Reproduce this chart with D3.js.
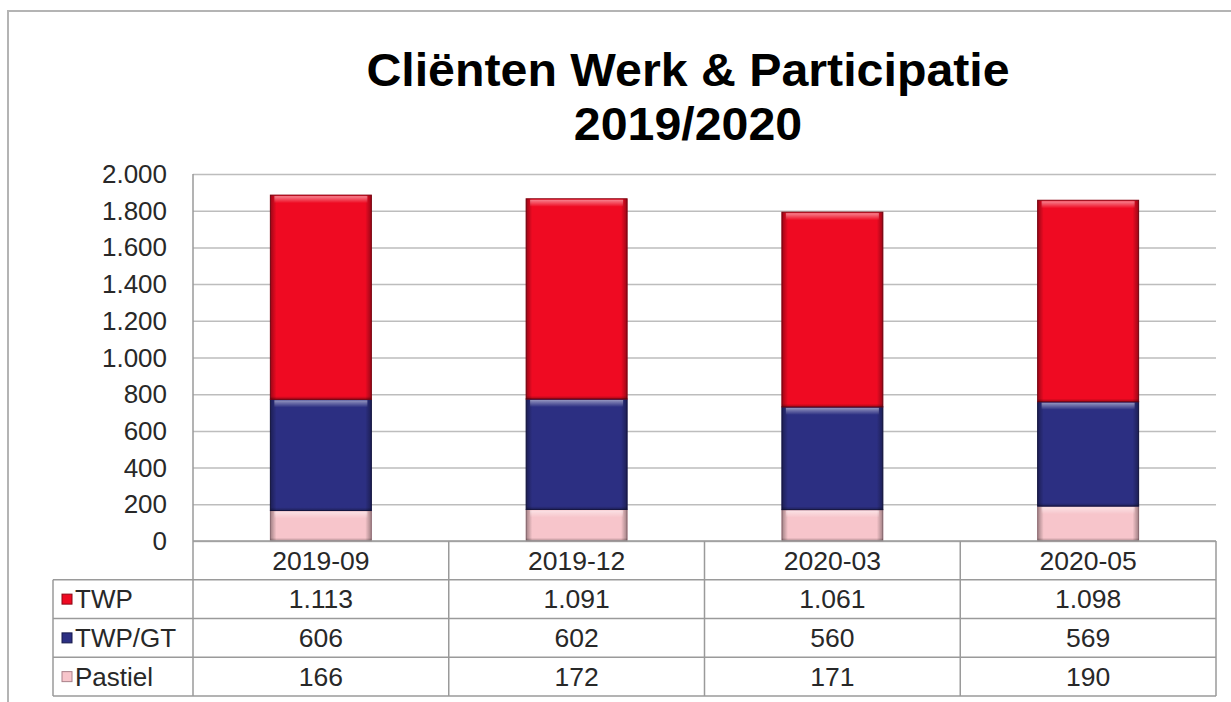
<!DOCTYPE html>
<html>
<head>
<meta charset="utf-8">
<script src="https://cdn.jsdelivr.net/npm/d3@7"></script>
<style>
  body { margin: 0; background: #fff; }
  svg { display: block; font-family: "Liberation Sans", Arial, sans-serif; }
</style>
</head>
<body>
<div id="chart"></div>
<script>
// Cliënten Werk & Participatie 2019/2020 – gestapelde kolommen + datatabel
const TITLE_LINES = ["Cliënten Werk & Participatie", "2019/2020"];
const PERIODS  = ["2019-09", "2019-12", "2020-03", "2020-05"];
const SERIES   = ["TWP", "TWP/GT", "Pastiel"];          // volgorde in de tabel
const TWP      = [1113, 1091, 1061, 1098];
const TWP_GT   = [606, 602, 560, 569];
const PASTIEL  = [166, 172, 171, 190];
const Y_TICKS  = [0, 200, 400, 600, 800, 1000, 1200, 1400, 1600, 1800, 2000];

const VALUES = { "TWP": TWP, "TWP/GT": TWP_GT, "Pastiel": PASTIEL };
const STACK_ORDER = ["Pastiel", "TWP/GT", "TWP"];       // van onder naar boven
const COLORS = {
  "TWP":     { fill: "#ef0a22", edge: "#8c0614", light: "#ff4a5a" },
  "TWP/GT":  { fill: "#2c2f82", edge: "#16184a", light: "#5a60b4" },
  "Pastiel": { fill: "#f7c5cb", edge: "#a9808a", light: "#fff6f8" }
};

/* helpers */
const nl = d3.formatLocale({ decimal: ",", thousands: ".", grouping: [3], currency: ["€", ""] });
const fmt = nl.format(",d");
const SX = 1.04;   // tekst in het origineel is iets breder uitgerekt

function label(g, x, y, s, size, anchor, weight, color) {
  return g.append("text")
    .attr("transform", `translate(${x},${y}) scale(${SX},1)`)
    .attr("text-anchor", anchor || "middle")
    .attr("dy", "0.36em")
    .attr("font-size", size)
    .attr("font-weight", weight || "normal")
    .attr("fill", color || "#282828")
    .text(s);
}

const W = 1231, H = 702;
const plot = { left: 193, right: 1216, top: 174, bottom: 541 };
const table = { labelLeft: 53, bottom: 696 };

const svg = d3.select("#chart").append("svg")
  .attr("width", W).attr("height", H);

const defs = svg.append("defs");
const side = defs.append("linearGradient").attr("id", "sideShade");
[[0, 0.35], [0.06, 0], [0.94, 0], [1, 0.35]].forEach(([o, a]) =>
  side.append("stop").attr("offset", o).attr("stop-color", "#000").attr("stop-opacity", a));
const bottomShade = defs.append("linearGradient").attr("id", "bottomShade")
  .attr("x1", 0).attr("y1", 0).attr("x2", 0).attr("y2", 1);
[[0, 0], [0.6, 0], [1, 0.3]].forEach(([o, a]) =>
  bottomShade.append("stop").attr("offset", o).attr("stop-color", "#000").attr("stop-opacity", a));
const topShine = defs.append("linearGradient").attr("id", "topShine")
  .attr("x1", 0).attr("y1", 0).attr("x2", 0).attr("y2", 1);
[[0, 0.9], [1, 0]].forEach(([o, a]) =>
  topShine.append("stop").attr("offset", o).attr("stop-color", "#fff").attr("stop-opacity", a));

// outer frame (linker- en bovenrand)
svg.append("path")
  .attr("d", `M8,${H} V11 H${W}`)
  .attr("fill", "none").attr("stroke", "#b4b4b4").attr("stroke-width", 2);

// title
TITLE_LINES.forEach((t, i) => {
  svg.append("text")
    .attr("transform", `translate(688,${86 + i * 54}) scale(1.05,1)`)
    .attr("text-anchor", "middle")
    .attr("font-size", 46)
    .attr("font-weight", "bold")
    .attr("fill", "#000")
    .text(t);
});

// scales
const x = d3.scaleBand().domain(PERIODS).range([plot.left, plot.right]).padding(0);
const y = d3.scaleLinear().domain([0, 2000]).range([plot.bottom, plot.top]);
const barW = x.bandwidth() * 0.395;

// grid
svg.append("g")
  .attr("transform", `translate(${plot.left},0)`)
  .call(d3.axisLeft(y).tickValues(Y_TICKS).tickSize(-(plot.right - plot.left)).tickFormat(""))
  .call(g => g.select(".domain").remove())
  .call(g => g.selectAll(".tick line").attr("stroke", "#bdbdbd").attr("stroke-width", 1.5));

// y labels
const gy = svg.append("g");
Y_TICKS.forEach(v => label(gy, 167, y(v), fmt(v), 25, "end"));

// stacked bars
const rows = PERIODS.map((p, i) => {
  const r = { period: p };
  SERIES.forEach(s => r[s] = VALUES[s][i]);
  return r;
});
const stacked = d3.stack().keys(STACK_ORDER)(rows);

const gBars = svg.append("g");
stacked.forEach(layer => {
  const c = COLORS[layer.key];
  const g = gBars.append("g");
  layer.forEach(seg => {
    const x0 = x(seg.data.period) + (x.bandwidth() - barW) / 2;
    const yt = y(seg[1]), yb = y(seg[0]);
    const h = yb - yt;
    g.append("rect").attr("x", x0).attr("y", yt).attr("width", barW).attr("height", h)
      .attr("fill", c.fill).attr("stroke", c.edge).attr("stroke-width", 1);
    g.append("rect").attr("x", x0).attr("y", yt).attr("width", barW).attr("height", h)
      .attr("fill", "url(#sideShade)");
    g.append("rect").attr("x", x0).attr("y", yb - Math.min(8, h / 3)).attr("width", barW)
      .attr("height", Math.min(8, h / 3)).attr("fill", "url(#bottomShade)");
    g.append("rect").attr("x", x0 + 4).attr("y", yt + 1).attr("width", barW - 8)
      .attr("height", Math.min(7, h / 4)).attr("fill", "url(#topShine)").attr("opacity", 0.55);
  });
});

// data table
const rowBand = d3.scaleBand().domain(["header", ...SERIES]).range([plot.bottom, table.bottom]);
const gT = svg.append("g");
const lineC = "#9a9a9a";
function hline(y0, xa, xb) {
  gT.append("line").attr("x1", xa).attr("x2", xb).attr("y1", y0).attr("y2", y0)
    .attr("stroke", lineC).attr("stroke-width", 1.5);
}
function vline(x0, ya, yb) {
  gT.append("line").attr("x1", x0).attr("x2", x0).attr("y1", ya).attr("y2", yb)
    .attr("stroke", lineC).attr("stroke-width", 1.5);
}
hline(plot.bottom, plot.left, plot.right);
SERIES.forEach(s => hline(rowBand(s), table.labelLeft, plot.right));
hline(table.bottom, table.labelLeft, plot.right);
vline(table.labelLeft, rowBand(SERIES[0]), table.bottom);
vline(plot.left, plot.top, table.bottom);
PERIODS.forEach(p => vline(x(p) + x.bandwidth(), plot.bottom, table.bottom));

// header
PERIODS.forEach(p => label(gT, x(p) + x.bandwidth() / 2, rowBand("header") + rowBand.bandwidth() / 2, p, 25.5));

// rows
SERIES.forEach(s => {
  const cy = rowBand(s) + rowBand.bandwidth() / 2;
  const c = COLORS[s];
  gT.append("rect").attr("x", 62).attr("y", cy - 5).attr("width", 10).attr("height", 10)
    .attr("fill", c.fill).attr("stroke", c.edge).attr("stroke-width", 1);
  label(gT, 75, cy, s, 25, "start");
  PERIODS.forEach((p, i) => label(gT, x(p) + x.bandwidth() / 2, cy, fmt(VALUES[s][i]), 25.5));
});
</script>
</body>
</html>
